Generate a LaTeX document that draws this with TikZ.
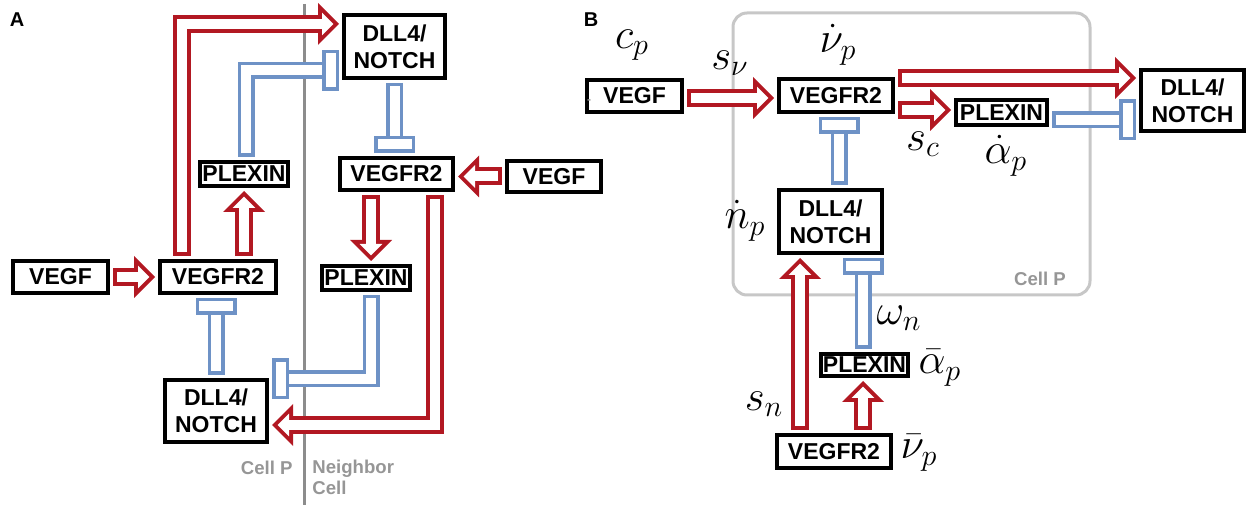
\documentclass[tikz,border=0pt]{standalone}
\usepackage{fix-cm}
\usepackage{fontspec}
\setmainfont{Liberation Sans}
\usetikzlibrary{arrows.meta,calc}
\definecolor{actred}{RGB}{178,24,34}
\definecolor{inhblue}{RGB}{110,146,198}
\definecolor{notegray}{RGB}{150,150,150}
\tikzset{box/.style={draw=black,fill=white,line width=2pt,inner sep=1pt,outer sep=2.5pt,align=center,font=\bfseries\fontsize{11.5}{13.5}\selectfont},act/.style={draw=actred,line width=9pt,-{Triangle[length=10.5pt,width=21pt,line width=0pt]},postaction={draw=white,line width=5pt,-{Triangle[length=5.67pt,width=11.34pt,line width=0pt]},shorten >=2.83pt,shorten <=2pt}},inh/.style={draw=inhblue,line width=8.5pt,-{Rectangle[open,length=8.5pt,width=20.5pt,line width=1.75pt]},postaction={draw=white,line width=5pt,-,shorten >=8.5pt,shorten <=1.75pt}},lbl/.style={font=\fontsize{21.5}{23}\selectfont,inner sep=0pt},note/.style={text=notegray,font=\bfseries\fontsize{9.3}{10.5}\selectfont,inner sep=0pt},tag/.style={font=\bfseries\fontsize{10}{12}\selectfont,inner sep=0pt}}

\begin{document}
\begin{tikzpicture}[x=0.5pt,y=-0.5pt]
\useasboundingbox(0,0)rectangle(1250,508);
\draw[line width=1.5pt,draw=black!45](304,4)--(304,505);
\draw[line width=1.5pt,draw=black!22,rounded corners=7pt](733,13)rectangle(1090,295);
\node[tag](tagA)at(17,20){A};
\node[tag](tagB)at(591,20){B};
\node[box,minimum width=50.5pt,minimum height=31.5pt](dllA)at(394.5,46.5){DLL4/\\NOTCH};
\node[box,minimum width=56.5pt,minimum height=16pt](vegfrA2)at(396.5,174){VEGFR2};
\node[box,minimum width=47pt,minimum height=15.5pt](vegfA2)at(554,176.5){VEGF};
\node[box,minimum width=44pt,minimum height=12pt](plexA1)at(244,174){PLEXIN};
\node[box,minimum width=44pt,minimum height=12pt](plexA2)at(366,278){PLEXIN};
\node[box,minimum width=47.5pt,minimum height=16pt](vegfA1)at(60.5,277){VEGF};
\node[box,minimum width=58pt,minimum height=16pt](vegfrA1)at(218,277){VEGFR2};
\node[box,minimum width=51pt,minimum height=31pt](dllA2)at(216,411){DLL4/\\NOTCH};
\node[note,anchor=east](cellA)at(293,468){Cell P};
\node[note,anchor=north west,align=left](nbr)at(312,460){Neighbor\\Cell};
\draw[act](vegfA1.east)--(vegfA1.east-|vegfrA1.west);
\draw[act](vegfrA1.north-|plexA1.south)--(plexA1.south);
\draw[act]($(vegfrA1.north)+(-36,0)$)|-($(dllA.west)+(0,-22.5)$);
\draw[act]($(vegfrA2.south)+(-25.5,0)$)--($(plexA2.north)+(5,0)$);
\draw[act](vegfA2.west)--(vegfA2.west-|vegfrA2.east);
\draw[act]($(vegfrA2.south)+(38,0)$)|-($(dllA2.east)+(0,14)$);
\draw[inh](dllA.south)--(dllA.south|-vegfrA2.north);
\draw[inh]($(plexA1.north)+(2,0)$)|-($(dllA.west)+(0,24)$);
\draw[inh]($(plexA2.south)+(5,0)$)|-($(dllA2.east)+(0,-32)$);
\draw[inh](dllA2.north)--(dllA2.north|-vegfrA1.south);
\node[box,minimum width=47.5pt,minimum height=16pt](vegfB)at(634.5,96){\llap{\textcolor{notegray}{\fontsize{6}{6}\selectfont-}\hspace{6pt}}VEGF};
\node[box,minimum width=57pt,minimum height=16.5pt](vegfrB)at(836,95.5){VEGFR2};
\node[box,minimum width=51.5pt,minimum height=30.5pt](dllB)at(1192.5,100.5){DLL4/\\NOTCH};
\node[box,minimum width=45.5pt,minimum height=12.5pt](plexB)at(1001.5,112.5){PLEXIN};
\node[box,minimum width=51.5pt,minimum height=31.5pt](dllBm)at(830.5,221.5){DLL4/\\NOTCH};
\node[box,minimum width=43.5pt,minimum height=11pt](plexBb)at(864.5,365){PLEXIN};
\node[box,minimum width=57pt,minimum height=16.5pt](vegfrBb)at(834,451.5){VEGFR2};
\node[note](cellB)at(1040,278.5){Cell P};
\draw[act]($(vegfB.east)+(0,2)$)--($(vegfrB.west)+(0,2.5)$);
\draw[act]($(vegfrB.east)+(0,-17.5)$)--($(dllB.west)+(0,-22.5)$);
\draw[act]($(vegfrB.east)+(0,14.5)$)--($(plexB.west)+(0,-2.5)$);
\draw[inh]($(plexB.east)+(0,7.5)$)--($(dllB.west)+(0,19.5)$);
\draw[inh]($(dllBm.north)+(8.5,0)$)--($(vegfrB.south)+(3,0)$);
\draw[act]($(vegfrBb.north)+(-34,0)$)--($(dllBm.south)+(-30.5,0)$);
\draw[act]($(vegfrBb.north)+(29,0)$)--($(plexBb.south)+(-1.5,0)$);
\draw[inh]($(plexBb.north)+(-1.5,0)$)--($(dllBm.south)+(32.5,0)$);
\node[lbl](cp)at(632,45){$c_p$};
\node[lbl](sv)at(730,63){$s_\nu$};
\node[lbl](nup)at(838,45){$\dot{\nu}_p$};
\node[lbl](sc)at(923,144){$s_c$};
\node[lbl](alp)at(1006,156){$\dot{\alpha}_p$};
\node[lbl](np)at(745,221){$\dot{n}_p$};
\node[lbl](omn)at(899,318){$\omega_n$};
\node[lbl](alb)at(940,368){$\bar{\alpha}_p$};
\node[lbl](sn)at(764,404){$s_n$};
\node[lbl](nub)at(919,453){$\bar{\nu}_p$};
\end{tikzpicture}
\end{document}
